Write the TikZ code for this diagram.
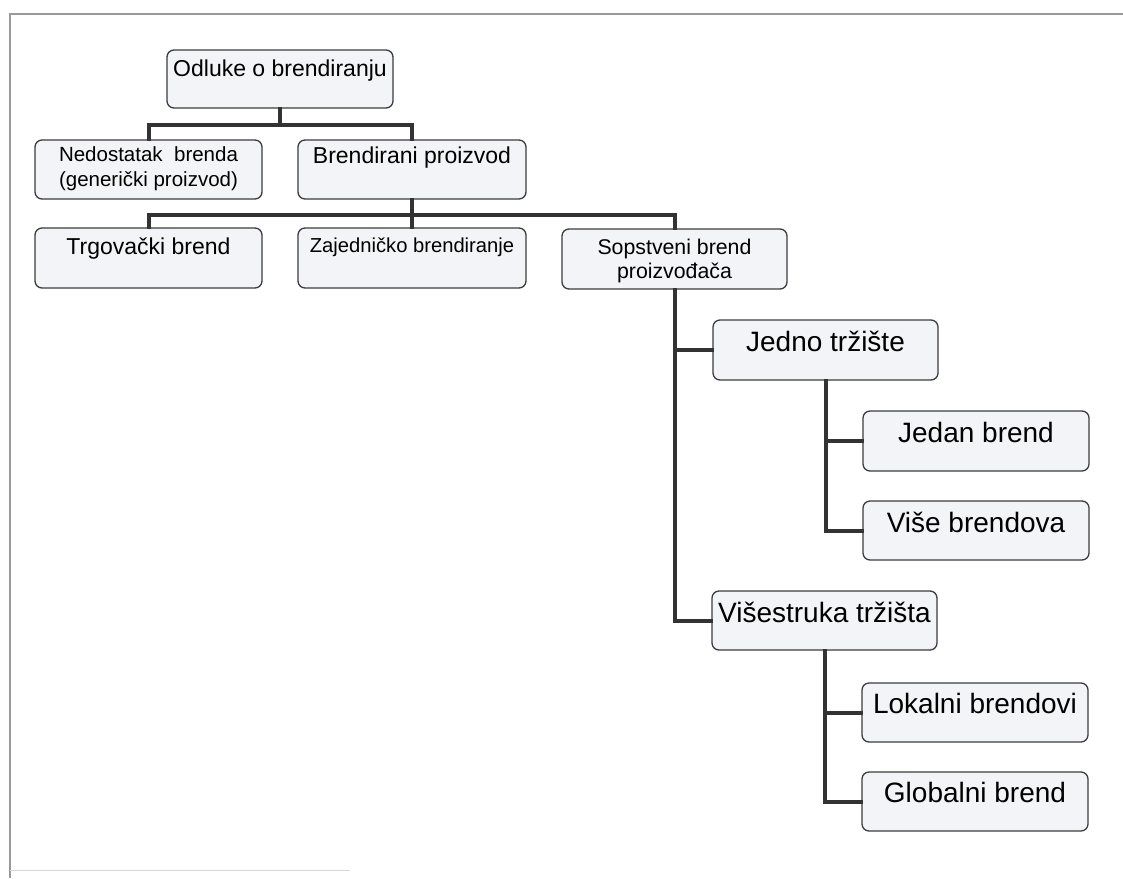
\documentclass[tikz,border=0pt]{standalone}
\usepackage{fontspec}
\setmainfont{Liberation Sans}
\definecolor{boxfill}{HTML}{F2F4F7}
\definecolor{boxline}{HTML}{3C3C3C}
\definecolor{linkc}{HTML}{333333}
\definecolor{framec}{HTML}{9A9A9A}
\newcommand{\fs}[2]{\fontsize{#1}{#2}\selectfont}
\begin{document}
\begin{tikzpicture}[x=1pt,y=-1pt,
  box/.style={draw=boxline, fill=boxfill, rounded corners=7pt, line width=1.3pt,
    inner xsep=0pt, inner ysep=0pt, anchor=base, align=center},
  link/.style={draw=linkc, line width=4pt, line cap=rect}]
\useasboundingbox (0,0) rectangle (1123,878);
% page frame
\draw[framec, line width=1.2pt] (10,878) -- (10,14) -- (1123,14);
\draw[framec!40, line width=1pt] (10,870) -- (350,870);

% level 0
\node[box, minimum width=226pt, text height=26pt, text depth=32pt, font=\fs{23}{27}]
  (odl) at (280,76) {Odluke o brendiranju};
% level 1
\node[box, minimum width=227pt, text height=21pt, text depth=38pt, font=\fs{20.5}{25}]
  (ned) at (148.5,161) {\begin{tabular}[t]{@{}c@{}}Nedostatak\ \ brenda\\(generički proizvod)\end{tabular}};
\node[box, minimum width=228pt, text height=23pt, text depth=36pt, font=\fs{23}{27}]
  (bre) at (412,163) {Brendirani proizvod};
% level 2
\node[box, minimum width=227pt, text height=26pt, text depth=34pt, font=\fs{23}{27}]
  (trg) at (148.5,254) {Trgovački brend};
\node[box, minimum width=228pt, text height=24pt, text depth=36pt, font=\fs{20.2}{24}]
  (zaj) at (412,252) {Zajedničko brendiranje};
\node[box, minimum width=225pt, text height=25pt, text depth=35pt, font=\fs{21.3}{24}]
  (sop) at (674.5,254) {\begin{tabular}[t]{@{}c@{}}Sopstveni brend\\proizvođača\end{tabular}};
% markets
\node[box, minimum width=225pt, text height=31pt, text depth=29pt, font=\fs{28}{32}]
  (jed) at (825.5,351) {Jedno tržište};
\node[box, minimum width=225pt, text height=31pt, text depth=28pt, font=\fs{28}{32}]
  (vis) at (824.5,622) {Višestruka tržišta};
% brands
\node[box, minimum width=226pt, text height=31pt, text depth=29pt, font=\fs{28}{32}]
  (jedan) at (976,442) {Jedan brend};
\node[box, minimum width=226pt, text height=31pt, text depth=28pt, font=\fs{28}{32}]
  (vise) at (976,532) {Više brendova};
\node[box, minimum width=226pt, text height=30pt, text depth=29pt, font=\fs{28}{32}]
  (lok) at (975,713) {Lokalni brendovi};
\node[box, minimum width=226pt, text height=30pt, text depth=29pt, font=\fs{28}{32}]
  (glo) at (975,802) {Globalni brend};

% junction points of the top tree (below the parent boxes)
\coordinate (j1) at ([yshift=-16pt]odl.south);
\coordinate (j2) at ([yshift=-15pt]bre.south);

% connectors
\draw[link] (odl.south) -- (j1);
\draw[link] (ned.north) -- (ned.north |- j1) -- (bre.north |- j1) -- (bre.north);
\draw[link] (bre.south) -- (zaj.north);
\draw[link] (trg.north) -- (trg.north |- j2) -- (sop.north |- j2) -- (sop.north);
\draw[link] (sop.south) -- (sop.south |- vis.west) -- (vis.west);
\draw[link] (sop.south |- jed.west) -- (jed.west);
\draw[link] (jed.south) -- (jed.south |- vise.west) -- (vise.west);
\draw[link] (jed.south |- jedan.west) -- (jedan.west);
\draw[link] (vis.south) -- (vis.south |- glo.west) -- (glo.west);
\draw[link] (vis.south |- lok.west) -- (lok.west);
\end{tikzpicture}
\end{document}
